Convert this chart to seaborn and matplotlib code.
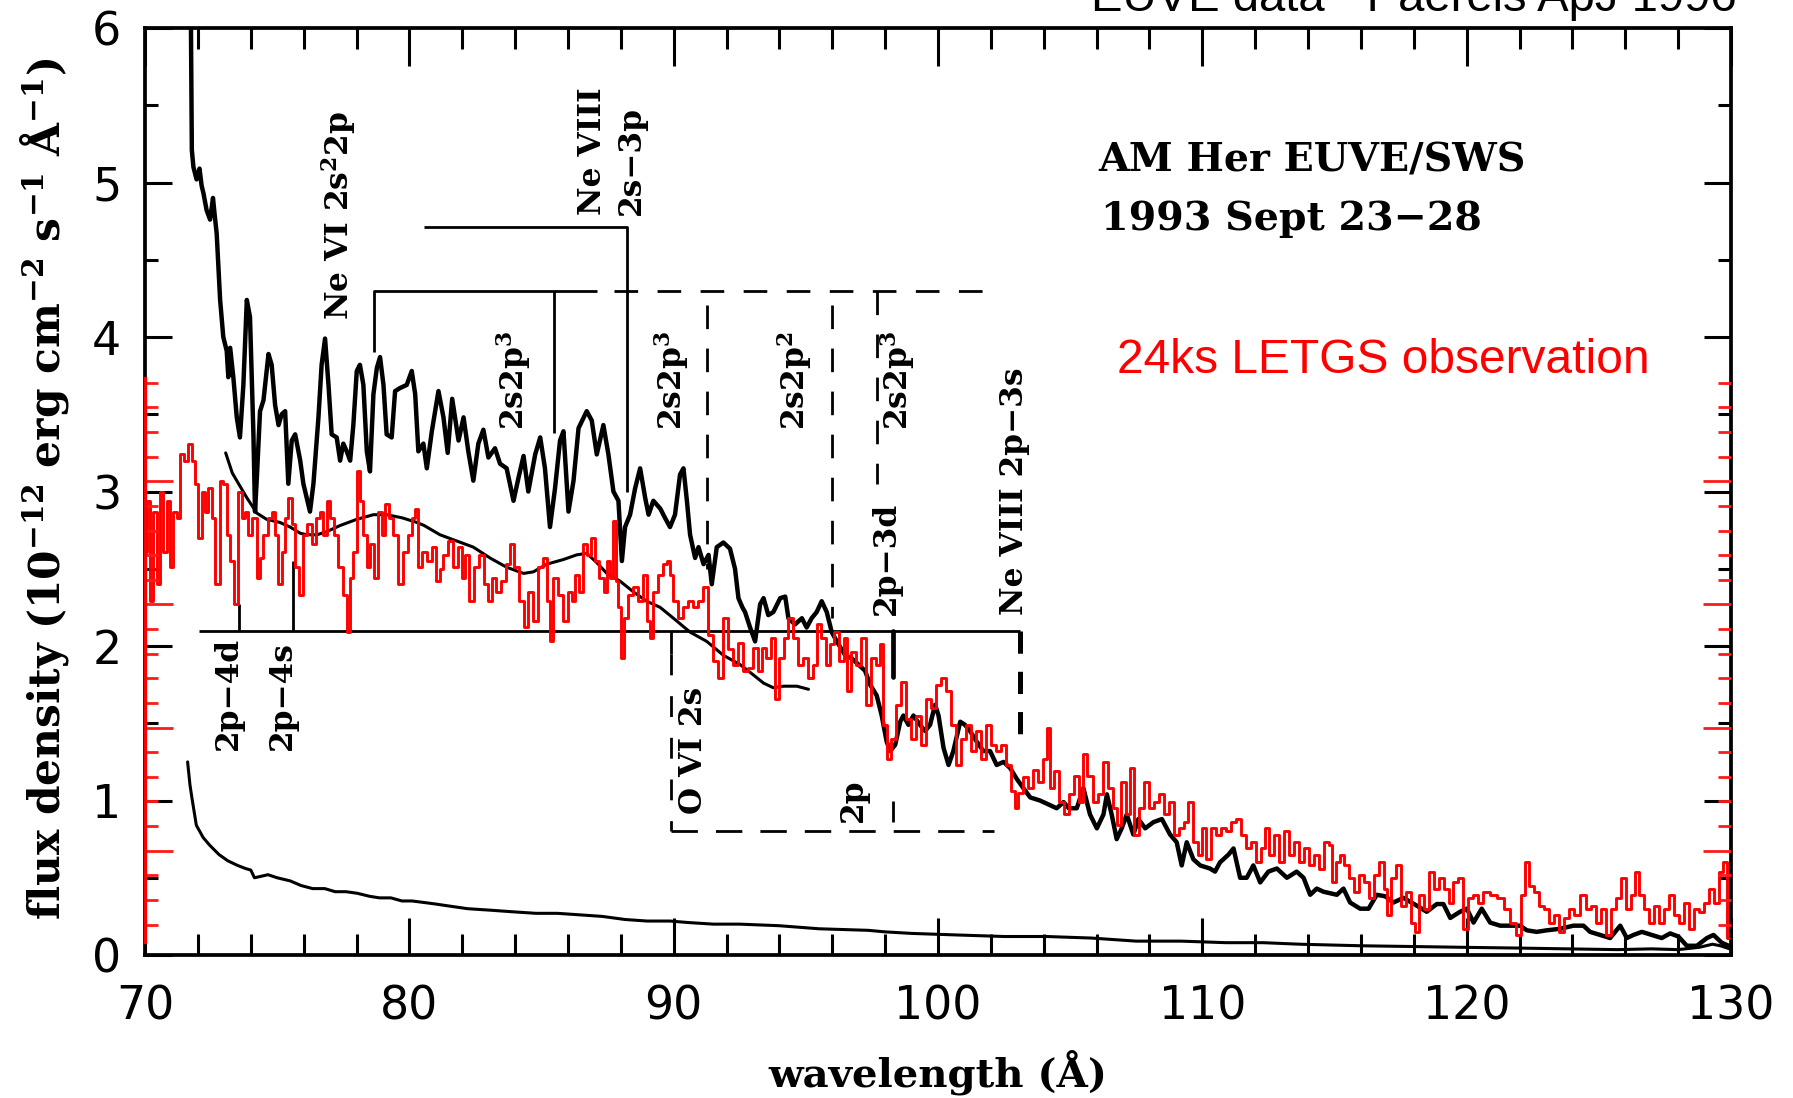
import matplotlib
matplotlib.use("Agg")
import matplotlib.pyplot as plt
import pandas as pd
import seaborn as sns

# ---------------------------------------------------------------------------
# AM Her: EUVE/SWS spectrum (1993 Sept 23-28) with the 24 ks LETGS overlay
# ---------------------------------------------------------------------------

# EUVE/SWS flux density (1e-12 erg cm^-2 s^-1 A^-1)
euve_wl = [71.72, 71.77, 71.83, 71.95, 72.06, 72.14, 72.21, 72.33, 72.46, 72.57,
           72.64, 72.71, 72.84, 72.96, 73.09, 73.15, 73.22, 73.34, 73.47, 73.59,
           73.72, 73.85, 73.97, 74.10, 74.16, 74.23, 74.35, 74.48, 74.67, 74.79,
           74.92, 75.05, 75.17, 75.30, 75.42, 75.55, 75.68, 75.87, 75.99, 76.24,
           76.37, 76.56, 76.68, 76.81, 76.94, 77.06, 77.25, 77.38, 77.50, 77.63,
           77.76, 77.88, 78.01, 78.13, 78.26, 78.39, 78.51, 78.64, 78.77, 78.89,
           79.02, 79.14, 79.33, 79.46, 79.65, 79.90, 80.09, 80.22, 80.34, 80.53,
           80.66, 80.85, 81.10, 81.29, 81.45, 81.62, 81.86, 82.05, 82.23, 82.42,
           82.61, 82.80, 82.99, 83.24, 83.43, 83.68, 83.94, 84.13, 84.32, 84.50,
           84.76, 84.95, 85.13, 85.32, 85.51, 85.70, 85.83, 86.02, 86.21, 86.40,
           86.71, 86.90, 87.09, 87.34, 87.53, 87.72, 87.91, 88.04, 88.16, 88.35,
           88.54, 88.73, 88.92, 89.05, 89.23, 89.49, 89.67, 89.86, 90.05, 90.24,
           90.37, 90.50, 90.62, 90.81, 90.94, 91.13, 91.32, 91.44, 91.63, 91.88,
           92.13, 92.32, 92.45, 92.60, 92.70, 92.89, 93.08, 93.27, 93.40, 93.58,
           93.77, 94.03, 94.22, 94.34, 94.59, 94.85, 95.03, 95.22, 95.41, 95.60,
           95.79, 95.98, 96.17, 96.49, 96.74, 96.99, 97.24, 97.43, 97.68, 97.87,
           98.06, 98.19, 98.38, 98.57, 98.69, 98.88, 99.07, 99.32, 99.51, 99.70,
           99.89, 100.02, 100.21, 100.40, 100.58, 100.84, 101.02, 101.21, 101.47, 101.72,
           101.97, 102.22, 102.48, 102.73, 102.98, 103.23, 103.49, 103.86, 104.24, 104.49,
           104.75, 104.95, 105.25, 105.50, 105.75, 106.01, 106.26, 106.39, 106.57, 106.76,
           106.95, 107.14, 107.39, 107.58, 107.84, 108.15, 108.47, 108.78, 109.03, 109.22,
           109.41, 109.66, 109.92, 110.29, 110.48, 110.67, 110.99, 111.18, 111.43, 111.68,
           111.93, 112.19, 112.50, 112.82, 113.20, 113.57, 113.83, 114.08, 114.33, 114.58,
           114.84, 115.09, 115.34, 115.59, 115.97, 116.29, 116.60, 116.92, 117.23, 117.61,
           118.11, 118.49, 118.87, 119.12, 119.38, 119.75, 120.01, 120.26, 120.57, 120.89,
           121.27, 121.65, 122.02, 122.28, 122.65, 123.03, 123.54, 124.04, 124.42, 124.67,
           125.05, 125.43, 125.81, 126.06, 126.31, 126.63, 127.01, 127.38, 127.70, 128.01,
           128.33, 128.71, 129.09, 129.34, 129.65, 129.91]
euve_flux = [6.40, 5.21, 5.10, 5.02, 5.09, 4.98, 4.93, 4.82, 4.76, 4.90,
             4.78, 4.67, 4.24, 4.00, 3.91, 3.74, 3.93, 3.74, 3.48, 3.35,
             3.69, 4.24, 4.13, 3.37, 2.87, 3.09, 3.52, 3.59, 3.89, 3.82,
             3.56, 3.43, 3.50, 3.52, 3.05, 3.33, 3.37, 3.20, 3.05, 2.87,
             3.05, 3.48, 3.82, 3.99, 3.69, 3.37, 3.35, 3.20, 3.31, 3.26,
             3.20, 3.43, 3.78, 3.82, 3.69, 3.26, 3.13, 3.63, 3.80, 3.87,
             3.69, 3.37, 3.35, 3.65, 3.67, 3.69, 3.78, 3.63, 3.26, 3.31,
             3.15, 3.39, 3.65, 3.48, 3.25, 3.60, 3.33, 3.48, 3.26, 3.07,
             3.31, 3.40, 3.22, 3.28, 3.18, 3.15, 2.94, 3.09, 3.23, 3.00,
             3.24, 3.35, 3.15, 2.77, 3.02, 3.33, 3.39, 2.87, 3.07, 3.41,
             3.52, 3.46, 3.24, 3.43, 3.24, 3.00, 2.94, 2.55, 2.77, 2.85,
             3.02, 3.15, 2.96, 2.85, 2.94, 2.89, 2.83, 2.77, 2.85, 3.11,
             3.15, 2.94, 2.72, 2.57, 2.64, 2.53, 2.59, 2.40, 2.64, 2.67,
             2.63, 2.50, 2.31, 2.25, 2.22, 2.12, 2.03, 2.27, 2.31, 2.20,
             2.22, 2.31, 2.32, 2.18, 2.14, 2.18, 2.12, 2.18, 2.22, 2.29,
             2.22, 2.09, 2.03, 1.94, 1.92, 1.88, 1.84, 1.75, 1.68, 1.55,
             1.38, 1.32, 1.36, 1.51, 1.55, 1.49, 1.55, 1.49, 1.45, 1.49,
             1.62, 1.55, 1.34, 1.23, 1.32, 1.51, 1.49, 1.45, 1.38, 1.32,
             1.32, 1.23, 1.25, 1.21, 1.14, 1.08, 1.02, 1.00, 0.97, 0.95,
             0.99, 0.95, 0.95, 1.08, 0.91, 0.82, 0.91, 1.04, 0.91, 0.75,
             0.82, 0.91, 0.78, 0.88, 0.82, 0.86, 0.88, 0.78, 0.73, 0.58,
             0.73, 0.62, 0.58, 0.56, 0.54, 0.60, 0.65, 0.69, 0.50, 0.50,
             0.58, 0.47, 0.54, 0.56, 0.50, 0.54, 0.50, 0.39, 0.43, 0.41,
             0.40, 0.39, 0.43, 0.34, 0.30, 0.30, 0.39, 0.38, 0.34, 0.37,
             0.32, 0.28, 0.33, 0.33, 0.24, 0.28, 0.30, 0.21, 0.30, 0.21,
             0.19, 0.19, 0.19, 0.16, 0.15, 0.16, 0.17, 0.19, 0.19, 0.15,
             0.13, 0.11, 0.19, 0.11, 0.13, 0.15, 0.13, 0.11, 0.14, 0.12,
             0.06, 0.06, 0.11, 0.13, 0.08, 0.06]

# Model continuum drawn through the EUVE spectrum
model_wl = [73.05, 73.30, 73.47, 73.85, 74.23, 74.60, 75.10, 75.49, 75.87, 76.12,
            76.50, 76.87, 77.38, 78.01, 78.64, 79.14, 79.72, 80.28, 80.56, 81.16,
            81.79, 82.42, 83.05, 83.68, 84.32, 84.69, 85.20, 85.83, 86.33, 86.71,
            87.09, 87.47, 87.97, 88.48, 88.98, 89.49, 89.99, 90.62, 91.25, 91.88,
            92.51, 92.89, 93.40, 93.77, 94.15, 94.66, 95.10]
model_flux = [3.25, 3.12, 3.07, 2.96, 2.86, 2.82, 2.80, 2.77, 2.73, 2.72,
              2.72, 2.74, 2.78, 2.82, 2.85, 2.85, 2.83, 2.80, 2.78, 2.72,
              2.68, 2.64, 2.57, 2.51, 2.47, 2.48, 2.53, 2.56, 2.59, 2.60,
              2.54, 2.47, 2.42, 2.35, 2.29, 2.25, 2.18, 2.09, 2.03, 1.94,
              1.88, 1.83, 1.76, 1.73, 1.74, 1.74, 1.72]

# 1-sigma uncertainty of the EUVE spectrum
err_wl = [71.61, 71.70, 71.78, 71.94, 72.20, 72.45, 72.80, 73.13, 73.50, 73.80,
          74.00, 74.14, 74.40, 74.65, 75.00, 75.49, 75.90, 76.34, 76.80, 77.19,
          77.60, 78.02, 78.50, 78.87, 79.30, 79.72, 80.10, 80.56, 81.00, 81.39,
          82.20, 83.09, 83.90, 84.79, 85.60, 86.46, 87.30, 88.16, 89.00, 89.86,
          90.58, 91.50, 92.50, 93.97, 95.50, 97.35, 98.00, 99.00, 100.70, 102.50,
          104.10, 105.80, 107.50, 109.20, 110.90, 112.30, 113.70, 116.00, 118.00, 119.90,
          122.00, 123.80, 125.70, 127.00, 128.00, 128.80, 129.30, 129.60, 129.95]
err_flux = [1.25, 1.10, 1.01, 0.84, 0.76, 0.71, 0.65, 0.61, 0.58, 0.56,
            0.55, 0.50, 0.51, 0.52, 0.50, 0.48, 0.45, 0.43, 0.43, 0.41,
            0.41, 0.40, 0.38, 0.37, 0.37, 0.35, 0.35, 0.34, 0.33, 0.32,
            0.30, 0.29, 0.28, 0.27, 0.27, 0.26, 0.25, 0.23, 0.22, 0.22,
            0.21, 0.20, 0.20, 0.19, 0.17, 0.16, 0.15, 0.14, 0.13, 0.12,
            0.12, 0.11, 0.09, 0.09, 0.08, 0.08, 0.07, 0.06, 0.055, 0.05,
            0.045, 0.04, 0.035, 0.04, 0.035, 0.05, 0.07, 0.06, 0.04]

# Chandra LETGS spectrum (24 ks), scaled onto the same flux axis
letgs_wl = [70.00, 70.13, 70.25, 70.38, 70.50, 70.63, 70.76, 70.88, 71.01, 71.14,
            71.26, 71.39, 71.58, 71.70, 71.83, 71.95, 72.08, 72.21, 72.33, 72.46,
            72.59, 72.74, 72.90, 73.03, 73.15, 73.28, 73.47, 73.59, 73.72, 73.85,
            73.97, 74.16, 74.29, 74.41, 74.54, 74.73, 74.86, 74.98, 75.11, 75.23,
            75.36, 75.49, 75.61, 75.74, 75.93, 76.05, 76.24, 76.37, 76.56, 76.68,
            76.81, 76.94, 77.06, 77.25, 77.38, 77.57, 77.69, 77.82, 77.95, 78.07,
            78.20, 78.32, 78.45, 78.58, 78.77, 78.89, 79.02, 79.14, 79.33, 79.46,
            79.65, 79.84, 80.03, 80.15, 80.28, 80.40, 80.59, 80.78, 80.91, 81.10,
            81.22, 81.35, 81.54, 81.73, 81.92, 82.05, 82.17, 82.36, 82.55, 82.74,
            82.93, 83.05, 83.18, 83.37, 83.56, 83.75, 83.87, 84.06, 84.25, 84.44,
            84.57, 84.76, 84.95, 85.13, 85.26, 85.39, 85.51, 85.70, 85.89, 86.08,
            86.21, 86.33, 86.52, 86.65, 86.77, 86.96, 87.09, 87.28, 87.41, 87.53,
            87.66, 87.75, 87.85, 87.97, 88.07, 88.20, 88.35, 88.54, 88.73, 88.92,
            89.05, 89.17, 89.30, 89.49, 89.67, 89.80, 89.93, 90.05, 90.24, 90.43,
            90.62, 90.81, 91.00, 91.19, 91.38, 91.57, 91.76, 91.95, 92.14, 92.32,
            92.51, 92.70, 92.89, 93.08, 93.27, 93.40, 93.58, 93.77, 93.90, 94.09,
            94.28, 94.40, 94.59, 94.78, 94.97, 95.16, 95.35, 95.48, 95.67, 95.86,
            95.98, 96.17, 96.36, 96.49, 96.61, 96.80, 96.99, 97.18, 97.37, 97.56,
            97.75, 97.87, 98.00, 98.12, 98.31, 98.50, 98.69, 98.88, 99.07, 99.26,
            99.45, 99.64, 99.83, 100.02, 100.21, 100.40, 100.58, 100.77, 100.96, 101.15,
            101.34, 101.53, 101.72, 101.91, 102.10, 102.29, 102.48, 102.66, 102.85, 102.98,
            103.11, 103.30, 103.48, 103.67, 103.86, 104.05, 104.18, 104.30, 104.49, 104.68,
            104.87, 105.06, 105.25, 105.44, 105.56, 105.75, 105.94, 106.13, 106.32, 106.51,
            106.70, 106.83, 107.01, 107.20, 107.33, 107.52, 107.71, 107.90, 108.09, 108.28,
            108.47, 108.66, 108.84, 109.03, 109.22, 109.41, 109.54, 109.73, 109.92, 110.04,
            110.23, 110.42, 110.61, 110.80, 110.99, 111.18, 111.37, 111.56, 111.74, 111.93,
            112.12, 112.31, 112.44, 112.63, 112.82, 113.01, 113.20, 113.39, 113.57, 113.76,
            113.95, 114.14, 114.33, 114.52, 114.71, 114.84, 114.96, 115.15, 115.28, 115.47,
            115.66, 115.84, 116.03, 116.22, 116.41, 116.60, 116.79, 116.92, 117.04, 117.23,
            117.42, 117.61, 117.80, 117.99, 118.11, 118.30, 118.49, 118.68, 118.87, 119.06,
            119.25, 119.38, 119.56, 119.75, 119.94, 120.13, 120.32, 120.51, 120.76, 121.01,
            121.27, 121.52, 121.77, 121.96, 122.15, 122.28, 122.47, 122.66, 122.84, 123.03,
            123.22, 123.41, 123.60, 123.79, 123.98, 124.17, 124.42, 124.61, 124.80, 124.99,
            125.18, 125.37, 125.56, 125.74, 125.93, 126.12, 126.31, 126.44, 126.63, 126.82,
            127.01, 127.20, 127.38, 127.57, 127.76, 127.95, 128.14, 128.33, 128.52, 128.71,
            128.90, 129.09, 129.28, 129.47, 129.65, 129.78, 129.91]
letgs_flux = [2.61, 2.94, 2.29, 2.87, 2.40, 3.00, 2.61, 2.94, 2.51, 2.87,
              2.83, 3.24, 3.20, 3.31, 3.20, 3.05, 2.70, 3.00, 2.87, 3.02,
              2.83, 2.40, 3.07, 3.05, 2.72, 2.55, 2.27, 3.00, 2.83, 2.87,
              2.72, 2.83, 2.44, 2.57, 2.72, 2.83, 2.87, 2.72, 2.40, 2.61,
              2.83, 2.96, 2.79, 2.51, 2.33, 2.72, 2.79, 2.66, 2.83, 2.87,
              2.72, 2.94, 2.83, 2.72, 2.51, 2.33, 2.09, 2.44, 2.61, 3.13,
              2.94, 2.72, 2.51, 2.66, 2.44, 2.87, 2.72, 2.92, 2.83, 2.72,
              2.40, 2.61, 2.72, 2.83, 2.89, 2.51, 2.61, 2.55, 2.64, 2.42,
              2.50, 2.59, 2.68, 2.51, 2.64, 2.44, 2.59, 2.29, 2.51, 2.59,
              2.40, 2.29, 2.44, 2.35, 2.42, 2.53, 2.66, 2.51, 2.29, 2.12,
              2.35, 2.16, 2.51, 2.57, 2.29, 2.03, 2.44, 2.33, 2.16, 2.35,
              2.29, 2.46, 2.35, 2.66, 2.59, 2.70, 2.55, 2.44, 2.35, 2.55,
              2.44, 2.81, 2.42, 2.25, 1.92, 2.18, 2.33, 2.38, 2.29, 2.46,
              2.16, 2.05, 2.35, 2.46, 2.53, 2.55, 2.46, 2.29, 2.18, 2.25,
              2.29, 2.25, 2.29, 2.38, 2.07, 1.90, 1.79, 2.18, 1.98, 1.88,
              2.02, 1.84, 1.86, 1.99, 1.84, 1.99, 1.92, 2.05, 1.66, 1.92,
              2.05, 2.18, 2.05, 1.88, 1.92, 1.79, 1.88, 2.14, 2.05, 1.88,
              2.01, 2.09, 1.90, 2.05, 1.71, 1.96, 1.88, 2.05, 1.62, 1.92,
              1.88, 2.01, 1.49, 1.27, 1.40, 1.62, 1.77, 1.53, 1.40, 1.55,
              1.36, 1.66, 1.60, 1.75, 1.79, 1.71, 1.49, 1.23, 1.40, 1.49,
              1.32, 1.45, 1.27, 1.49, 1.36, 1.32, 1.36, 1.23, 1.06, 0.95,
              1.05, 1.15, 1.08, 1.20, 1.12, 1.27, 1.47, 1.08, 1.19, 0.99,
              0.91, 1.04, 1.16, 0.99, 1.30, 1.16, 0.99, 1.04, 1.25, 1.08,
              0.95, 0.84, 1.12, 0.91, 1.21, 0.78, 0.95, 1.12, 0.95, 0.99,
              1.04, 0.91, 0.99, 0.78, 0.82, 0.86, 0.99, 0.73, 0.65, 0.82,
              0.62, 0.82, 0.78, 0.82, 0.80, 0.86, 0.88, 0.78, 0.69, 0.73,
              0.60, 0.69, 0.82, 0.65, 0.78, 0.60, 0.80, 0.65, 0.73, 0.60,
              0.69, 0.58, 0.65, 0.56, 0.73, 0.71, 0.47, 0.60, 0.65, 0.58,
              0.50, 0.41, 0.52, 0.47, 0.37, 0.52, 0.60, 0.43, 0.26, 0.50,
              0.58, 0.32, 0.41, 0.21, 0.15, 0.39, 0.30, 0.54, 0.43, 0.50,
              0.43, 0.34, 0.47, 0.50, 0.17, 0.37, 0.39, 0.34, 0.41, 0.39,
              0.37, 0.30, 0.21, 0.13, 0.39, 0.60, 0.45, 0.41, 0.32, 0.30,
              0.21, 0.26, 0.15, 0.24, 0.30, 0.26, 0.39, 0.30, 0.32, 0.21,
              0.30, 0.13, 0.30, 0.37, 0.50, 0.30, 0.39, 0.54, 0.39, 0.30,
              0.21, 0.32, 0.21, 0.30, 0.39, 0.26, 0.21, 0.34, 0.17, 0.30,
              0.28, 0.34, 0.43, 0.34, 0.54, 0.60, 0.11]

# Line identifications (wavelengths in A)
ne6_bracket = [78.66, 85.46]          # Ne VI 2s2 2p - 2s 2p3
ne8_2s3p = [80.56, 88.24]             # Ne VIII 2s-3p bracket
ne6_dashed = [91.26, 96.00, 97.69]    # further Ne VI 2s2p^n components
ne8_2p_row = [72.03, 103.10]          # lower bracket (2p-ns/nd)
o6_box = [89.90, 102.10]              # O VI 2s-2p (second order) box
tick_2p4d, tick_2p4s, tick_2p3d = 73.55, 75.60, 98.30

xticks_major = [70, 80, 90, 100, 110, 120, 130]
yticks_major = [0, 1, 2, 3, 4, 5, 6]

# ---------------------------------------------------------------------------
sns.set_theme(style="white")
plt.rcParams["font.family"] = ["DejaVu Sans"]
plt.rcParams["text.color"] = "black"
plt.rcParams["axes.labelcolor"] = "black"
plt.rcParams["xtick.color"] = "black"
plt.rcParams["ytick.color"] = "black"
plt.rcParams["lines.scale_dashes"] = False
plt.rcParams["mathtext.fontset"] = "custom"
plt.rcParams["mathtext.rm"] = "DejaVu Serif:bold"
plt.rcParams["mathtext.it"] = "DejaVu Serif:bold"
plt.rcParams["mathtext.bf"] = "DejaVu Serif:bold"

fig = plt.figure(figsize=(17.93, 10.98), dpi=100)
pos = [0.0809, 0.1302, 0.8845, 0.8443]
ax = fig.add_axes(pos)

# spectra
sns.lineplot(x=err_wl, y=err_flux, ax=ax, color="black", lw=2.2,
             sort=False, estimator=None, zorder=3)
sns.lineplot(x=model_wl, y=model_flux, ax=ax, color="black", lw=2.2,
             sort=False, estimator=None, zorder=3)
sns.lineplot(x=euve_wl, y=euve_flux, ax=ax, color="black", lw=3.2,
             sort=False, estimator=None, zorder=4)
sns.lineplot(x=letgs_wl, y=letgs_flux, ax=ax, color="#ff0000", lw=2.1,
             drawstyle="steps-mid", sort=False, estimator=None, zorder=6)

ax.set_xlim(70, 130)
ax.set_ylim(0, 6)

# ----- line identification brackets -----
k = dict(color="black", lw=2.0, zorder=5, solid_capstyle="butt")
dash = (0, (17, 14))
# Ne VI 2s2 2p bracket (solid part, then dashed)
ax.plot([ne6_bracket[0], ne6_bracket[0], 87.10], [3.90, 4.30, 4.30], **k)
ax.plot([ne6_bracket[1], ne6_bracket[1]], [4.30, 3.38], **k)
ax.plot([87.75, 102.05], [4.30, 4.30], ls=dash, **k)
ax.plot([ne6_dashed[0], ne6_dashed[0]], [4.21, 2.50], ls=dash, **k)
ax.plot([ne6_dashed[1], ne6_dashed[1]], [4.21, 2.18], ls=dash, **k)
ax.plot([ne6_dashed[2], ne6_dashed[2]], [4.30, 3.05], ls=dash, **k)
# Ne VIII 2s-3p
ax.plot([ne8_2s3p[0], ne8_2s3p[1], ne8_2s3p[1]], [4.71, 4.71, 3.00], **k)
# lower row: 2p-4d, 2p-4s, 2p-3d, 2p-3s
ax.plot(ne8_2p_row, [2.10, 2.10], **k)
ax.plot([tick_2p4d, tick_2p4d], [2.10, 2.27], **k)
ax.plot([tick_2p4s, tick_2p4s], [2.10, 2.55], **k)
ax.plot([tick_2p3d, tick_2p3d], [2.10, 1.80], color="black", lw=3.4, zorder=5)
ax.plot([ne8_2p_row[1], ne8_2p_row[1]], [2.10, 1.36], color="black", lw=3.6,
        ls=(0, (16, 13)), zorder=5)
# O VI 2s-2p box
ax.plot([o6_box[0], o6_box[0]], [2.10, 1.95], **k)
ax.plot([o6_box[0], o6_box[0]], [1.95, 0.80], ls=(0, (15, 15)), **k)
ax.plot([o6_box[0], o6_box[1]], [0.80, 0.80], ls=(0, (19, 13)), **k)
ax.plot([tick_2p3d, tick_2p3d], [1.00, 0.86], **k)

# ----- rotated line labels -----
lab = dict(rotation=90, rotation_mode="anchor", ha="left", va="center",
           fontsize=22.5, fontweight="bold", family="DejaVu Serif", zorder=7)
ax.text(77.30, 4.11, r"Ne VI 2s$^{2}$2p", **lab)
ax.text(86.93, 4.79, "Ne VIII", **lab)
ax.text(88.41, 4.79, "2s\u22123p", **lab)
ax.text(83.94, 3.40, r"2s2p$^{3}$", **lab)
ax.text(89.92, 3.40, r"2s2p$^{3}$", **lab)
ax.text(94.57, 3.40, r"2s2p$^{2}$", **lab)
ax.text(98.47, 3.40, r"2s2p$^{3}$", **lab)
ax.text(98.05, 2.20, "2p\u22123d", **lab)
ax.text(102.88, 2.20, "Ne VIII 2p\u22123s", **lab)
ax.text(90.75, 0.91, "O VI 2s", **lab)
ax.text(96.80, 0.86, "2p", **lab)
ax.text(73.16, 1.33, "2p\u22124d", **lab)
ax.text(75.20, 1.33, "2p\u22124s", **lab)

# ----- legend-style notes -----
ax.text(106.06, 5.07, "AM Her EUVE/SWS", fontsize=28.5, fontweight="bold",
        family="DejaVu Serif", va="baseline", ha="left")
ax.text(106.17, 4.69, "1993 Sept 23\u221228", fontsize=28.5, fontweight="bold",
        family="DejaVu Serif", va="baseline", ha="left")
ax.text(106.78, 3.764, "24ks LETGS observation", fontsize=34.5, color="#ff0000",
        family="Liberation Sans", va="baseline", ha="left")
fig.text(0.6085, 0.990, "EUVE data - Paerels ApJ 1996", fontsize=34,
         family="Liberation Sans", va="baseline", ha="left")

# ----- axes styling -----
for s in ax.spines.values():
    s.set_visible(True)
    s.set_color("black")
    s.set_linewidth(2.7)

ax.set_xticks(xticks_major)
ax.set_xticklabels([str(v) for v in xticks_major])
ax.set_xticks([v for v in range(70, 131, 2) if v % 10], minor=True)
ax.set_yticks(yticks_major)
ax.set_yticklabels([str(v) for v in yticks_major])
ax.set_yticks([v + 0.5 for v in range(6)], minor=True)

ax.tick_params(axis="x", which="major", direction="in", length=27, width=2.2,
               top=True, bottom=True, labelsize=33, pad=21, color="black",
               labelcolor="black")
ax.tick_params(axis="x", which="minor", direction="in", length=15, width=2.2,
               top=True, bottom=True, color="black")
ax.tick_params(axis="y", which="major", direction="in", length=19.5, width=2.2,
               left=True, right=True, labelsize=33, pad=17, color="black",
               labelcolor="black")
ax.tick_params(axis="y", which="minor", direction="in", length=9.5, width=2.2,
               left=True, right=True, color="black")
for t in ax.get_xticklabels() + ax.get_yticklabels():
    t.set_family("DejaVu Sans")

ax.set_xlabel("wavelength (Å)", fontsize=29, fontweight="bold",
              family="DejaVu Serif", color="black")
ax.set_ylabel(r"flux density (10$^{-12}$ erg cm$^{-2}$ s$^{-1}$ Å$^{-1}$)",
              fontsize=30.5, fontweight="bold", family="DejaVu Serif",
              color="black")
ax.xaxis.set_label_coords(0.5, -0.1025)
ax.yaxis.set_label_coords(-0.047, 0.503)

# ----- LETGS flux scale: red ticks on both vertical axes -----
r_off, r_step = -0.122, 0.1594
rax = fig.add_axes(pos, sharex=ax)
rax.patch.set_visible(False)
rax.set_ylim((0 - r_off) / r_step, (6 - r_off) / r_step)
for name, s in rax.spines.items():
    s.set_visible(name == "left")
rax.spines["left"].set_color("#ff0000")
rax.spines["left"].set_linewidth(2.4)
rax.spines["left"].set_bounds(1.3, 24.2)
rax.set_yticks([5, 10, 15, 20])
rax.set_yticks([v for v in range(2, 25) if v % 5], minor=True)
rax.tick_params(axis="y", which="both", direction="in", left=True, right=True,
                labelleft=False, labelright=False, color="#ff1a1a", width=2.0)
rax.tick_params(axis="y", which="major", length=20)
rax.tick_params(axis="y", which="minor", length=9.5)
rax.xaxis.set_visible(False)
rax.set_ylabel("")

fig.savefig("out.png", dpi=100, facecolor="white")
